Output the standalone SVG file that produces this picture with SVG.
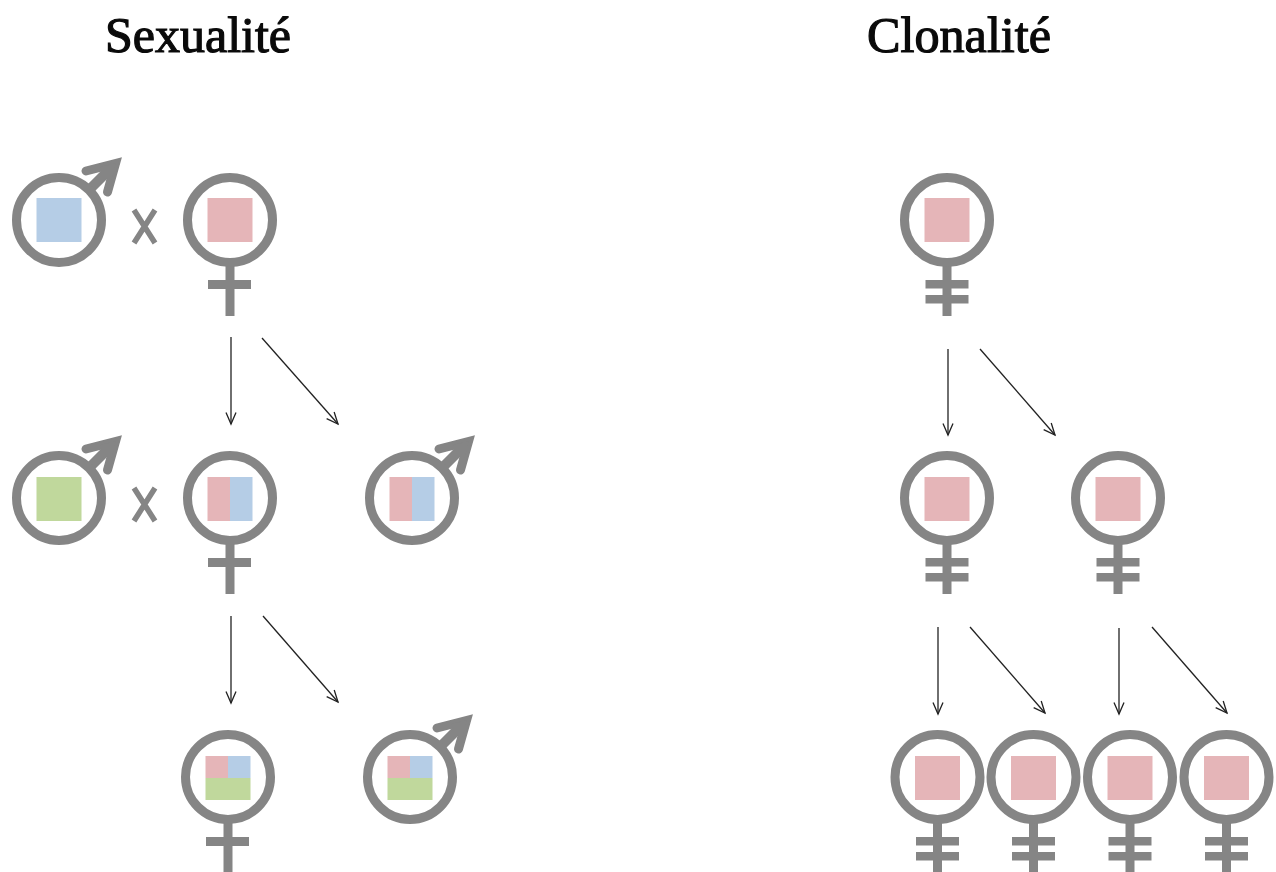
<svg xmlns="http://www.w3.org/2000/svg" xmlns:xlink="http://www.w3.org/1999/xlink" width="1276" height="872" viewBox="0 0 1276 872">
<style>
.title{font-family:"Liberation Serif","Times New Roman",serif;font-size:51px;fill:#0a0a0a;stroke:#0a0a0a;stroke-width:1.200px}
.ring{fill:#fff;stroke:#858585;stroke-width:9}
.bar{fill:#858585}
.shaft{fill:none;stroke:#858585;stroke-width:10}
.head{fill:none;stroke:#858585;stroke-width:9;stroke-linejoin:miter;stroke-linecap:round}
.core{fill:#858585}
.x{fill:none;stroke:#858585;stroke-width:5.500}
.p{fill:#e5b5b8}.b{fill:#b5cde6}.g{fill:#c0d89c}
.arrow{fill:none;stroke:#222;stroke-width:1.300;marker-end:url(#a)}
</style>
<defs>
<marker id="a" markerUnits="userSpaceOnUse" markerWidth="18" markerHeight="18" refX="14" refY="7" orient="auto"><path d="M2.500 2L14 7L2.500 12" fill="none" stroke="#222" stroke-width="1.300"/></marker>
<g id="male"><path class="shaft" d="M30 -30L54 -54"/><path class="head" d="M27 -49L56.500 -56.500L48.500 -28"/><path class="core" d="M38 -52L57 -57L52 -38Z"/><circle class="ring" r="42.500"/></g>
<g id="female1"><rect class="bar" x="-4.500" y="42" width="9" height="54"/><rect class="bar" x="-22" y="60" width="43" height="9"/><circle class="ring" r="42.500"/></g>
<g id="female2"><rect class="bar" x="-4.500" y="42" width="9" height="54"/><rect class="bar" x="-21.500" y="60" width="43" height="8.500"/><rect class="bar" x="-21.500" y="75" width="43" height="8.500"/><circle class="ring" r="42.500"/></g>
<rect id="sq" class="p" x="-22.500" y="-22" width="45" height="44"/>
<g id="half"><rect class="p" x="-22.500" y="-22" width="23" height="44"/><rect class="b" x="0" y="-22" width="22.500" height="44"/></g>
<g id="quad"><rect class="p" x="-22.500" y="-22" width="23" height="22"/><rect class="b" x="0" y="-22" width="22.500" height="22"/><rect class="g" x="-22.500" y="0" width="45" height="22"/></g>
</defs>
<rect width="1276" height="872" fill="#fff"/>
<text id="title-sexualite" class="title" x="105" y="52" textLength="186" lengthAdjust="spacingAndGlyphs">Sexualité</text>
<text id="title-clonalite" class="title" x="867" y="52" textLength="184" lengthAdjust="spacingAndGlyphs">Clonalité</text>
<g id="connectors">
<path class="arrow" d="M231 337V424"/><path class="arrow" d="M262 338L338 424"/>
<path class="arrow" d="M231 616V703"/><path class="arrow" d="M263 616L338 702"/>
<path class="arrow" d="M948 349V435"/><path class="arrow" d="M980 349L1055 435"/>
<path class="arrow" d="M938 627V714"/><path class="arrow" d="M970 627L1045 713"/>
<path class="arrow" d="M1119 628V714"/><path class="arrow" d="M1152 627L1227 713"/>
</g>
<g id="cross-1"><path class="x" d="M134 243L155 210M134 210L155 243"/></g>
<g id="cross-2"><path class="x" d="M134 521L155 488M134 488L155 521"/></g>
<g id="s-male-1" transform="translate(59 220)"><use href="#male"/><rect class="b" x="-22.500" y="-22" width="45" height="44"/></g>
<g id="s-female-1" transform="translate(230 220)"><use href="#female1"/><use href="#sq"/></g>
<g id="s-male-2" transform="translate(59 498)"><use href="#male"/><rect class="g" x="-22.500" y="-21" width="45" height="44"/></g>
<g id="s-female-2" transform="translate(230 498)"><use href="#female1"/><use href="#half" y="1"/></g>
<g id="s-male-3" transform="translate(412 498)"><use href="#male"/><use href="#half" y="1"/></g>
<g id="s-female-3" transform="translate(228 777)"><use href="#female1"/><use href="#quad" y="1"/></g>
<g id="s-male-4" transform="translate(410 777)"><use href="#male"/><use href="#quad" y="1"/></g>
<g id="c-1" transform="translate(947 220)"><use href="#female2"/><use href="#sq"/></g>
<g id="c-2" transform="translate(947 498)"><use href="#female2"/><use href="#sq" y="1"/></g>
<g id="c-3" transform="translate(1118 498)"><use href="#female2"/><use href="#sq" y="1"/></g>
<g id="c-4" transform="translate(937.500 777)"><use href="#female2"/><use href="#sq" y="1"/></g>
<g id="c-5" transform="translate(1033.500 777)"><use href="#female2"/><use href="#sq" y="1"/></g>
<g id="c-6" transform="translate(1130 777)"><use href="#female2"/><use href="#sq" y="1"/></g>
<g id="c-7" transform="translate(1226.500 777)"><use href="#female2"/><use href="#sq" y="1"/></g>
</svg>
